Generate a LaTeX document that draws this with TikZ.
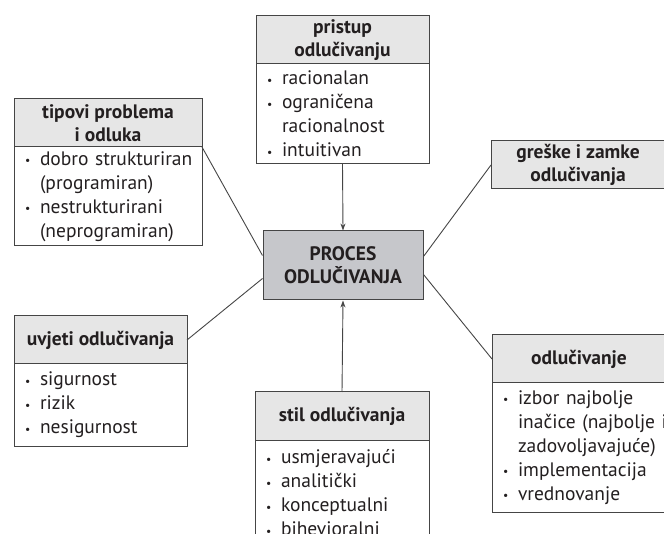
\documentclass[tikz,border=0pt]{standalone}
\usepackage{fontspec}
\setmainfont{PT Sans}
\usetikzlibrary{positioning, arrows.meta}

\definecolor{boxline}{HTML}{454545}
\definecolor{hdrgray}{HTML}{E6E6E6}
\definecolor{coregray}{HTML}{C6C7CB}
\definecolor{inkgray}{HTML}{231F20}

\newcommand{\itm}[1]{\mbox{\makebox[15pt][l]{\raisebox{0.5pt}{\scalebox{0.6}{\textbullet}}}#1}}
\newcommand{\cont}[1]{\mbox{\hspace*{15pt}#1}}

\begin{document}
\begin{tikzpicture}[x=1pt, y=-1pt,
    hdr/.style={draw=boxline, fill=hdrgray, line width=1pt, minimum width=#1,
        minimum height=48pt, align=center, inner sep=0pt, outer sep=0pt,
        text=inkgray, font=\fontsize{19.5}{23.5}\selectfont\bfseries},
    body/.style={draw=boxline, fill=white, line width=1pt, minimum height=#1,
        align=left, inner xsep=11pt, inner ysep=0pt, outer sep=0pt,
        text=inkgray, font=\fontsize{19.5}{24}\selectfont},
    link/.style={draw=boxline, line width=0.9pt},
    arrow/.style={link, -{Stealth[length=7pt, width=5pt]}}]
        \useasboundingbox (0,0) rectangle (664,534);
        \clip (0,0) rectangle (664,534);

        \coordinate (pristupNW) at (256,16);
        \coordinate (tipoviNW) at (14,99);
        \coordinate (greskeNW) at (491,141);
        \coordinate (uvjetiNW) at (14,316);
        \coordinate (stilNW) at (255,392);
        \coordinate (odlukaNW) at (492,335);

        % centre
        \node[draw=boxline, fill=coregray, line width=1pt, minimum width=160pt,
            minimum height=69pt, align=center, text=inkgray,
            font=\fontsize{19.5}{23}\selectfont\bfseries]
            (core) at (343,265.5) {PROCES\\ODLUČIVANJA};

        % boxes
        \node[hdr=173pt, anchor=north west] (pristupHdr) at (pristupNW) {pristup\\odlučivanju};
        \node[body=100pt, text width=151pt, below=0pt of pristupHdr] (pristupBody)
            {\itm{racionalan}\\\itm{ograničena}\\\cont{racionalnost}\\\itm{intuitivan}};

        \node[hdr=188pt, anchor=north west] (tipoviHdr) at (tipoviNW) {tipovi problema\\i odluka};
        \node[body=99pt, text width=166pt, below=0pt of tipoviHdr] (tipoviBody)
            {\itm{dobro strukturiran}\\\cont{(programiran)}\\\itm{nestrukturirani}\\\cont{(neprogramiran)}};

        \node[hdr=174pt, anchor=north west] (greskeHdr) at (greskeNW) {greške i zamke\\odlučivanja};

        \node[hdr=173pt, anchor=north west] (uvjetiHdr) at (uvjetiNW) {uvjeti odlučivanja};
        \node[body=82pt, text width=151pt, below=0pt of uvjetiHdr] (uvjetiBody)
            {\itm{sigurnost}\\\itm{rizik}\\\itm{nesigurnost}};

        \node[hdr=174pt, anchor=north west] (stilHdr) at (stilNW) {stil odlučivanja};
        \node[body=106pt, text width=152pt, below=0pt of stilHdr] (stilBody)
            {\itm{usmjeravajući}\\\itm{analitički}\\\itm{konceptualni}\\\itm{bihevioralni}};

        \node[hdr=174pt, anchor=north west] (odlukaHdr) at (odlukaNW) {odlučivanje};
        \node[body=129pt, text width=152pt, below=0pt of odlukaHdr] (odlukaBody)
            {\itm{izbor najbolje}\\\cont{inačice (najbolje ili}\\\cont{zadovoljavajuće)}\\\itm{implementacija}\\\itm{vrednovanje}};

        % connectors
        \draw[arrow] (pristupBody.south) -- (core.north);
        \draw[arrow] (stilHdr.north) -- (core.south);
        \draw[link] (tipoviBody.north east) -- ([yshift=10pt]core.west);
        \draw[link] (greskeHdr.west) -- ([yshift=9pt]core.east);
        \draw[link] (uvjetiHdr.east) -- ([yshift=-13pt]core.west);
        \draw[link] (odlukaHdr.west) -- ([yshift=-9pt]core.east);
    \end{tikzpicture}
\end{document}
